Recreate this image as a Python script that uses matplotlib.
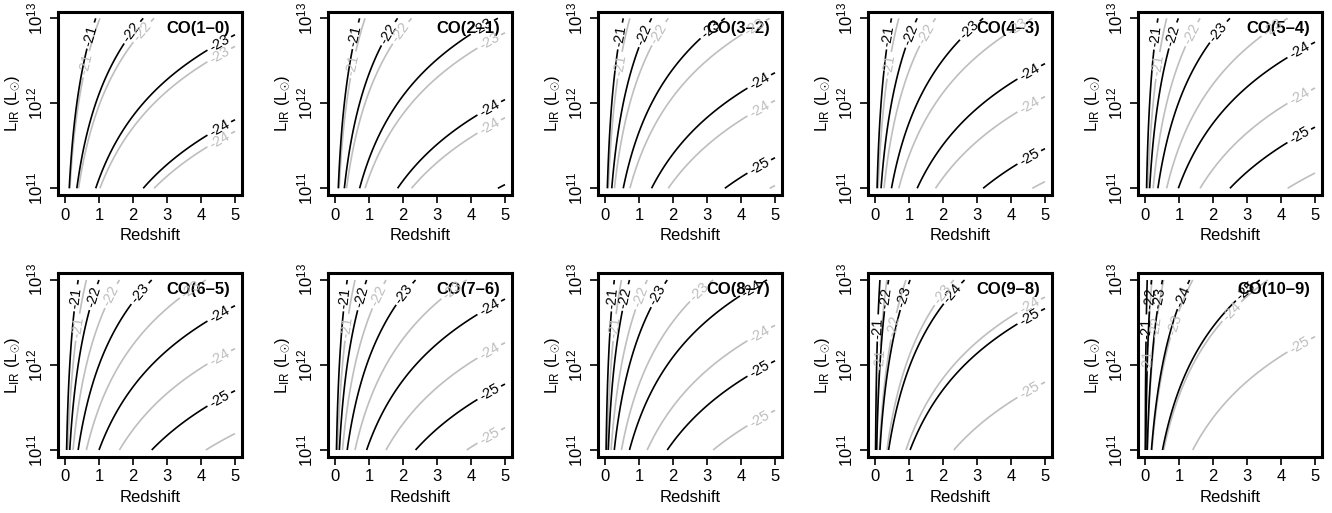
import numpy as np
import matplotlib
matplotlib.use('Agg')
import matplotlib.pyplot as plt

plt.rcParams['font.family'] = ['Liberation Sans', 'DejaVu Sans']
plt.rcParams['mathtext.fontset'] = 'custom'
plt.rcParams['mathtext.rm'] = 'Liberation Sans'
plt.rcParams['mathtext.it'] = 'Liberation Sans:italic'
plt.rcParams['mathtext.bf'] = 'Liberation Sans:bold'

transitions = ['CO(1\u20130)', 'CO(2\u20131)', 'CO(3\u20132)', 'CO(4\u20133)', 'CO(5\u20134)',
               'CO(6\u20135)', 'CO(7\u20136)', 'CO(8\u20137)', 'CO(9\u20138)', 'CO(10\u20139)']
# redshift where the -24 contour meets L_IR = 1e11 Lsun
z24_black = [2.30, 1.84, 1.37, 1.24, 0.98, 1.00, 0.93, 0.72, 0.40, 0.19]
z24_gray = [2.62, 2.25, 1.86, 1.78, 1.62, 1.60, 1.50, 1.24, 0.91, 0.55]
levels = [-25, -24, -23, -22, -21]
x_ticks = [0, 1, 2, 3, 4, 5]
y_ticks = [11, 12, 13]


def lum_dist(z):
    # flat LCDM, H0=70, Om=0.3, in Mpc
    zz = np.linspace(0, 6, 6001)
    inv_e = 1.0 / np.sqrt(0.3 * (1 + zz) ** 3 + 0.7)
    dc = np.concatenate([[0], np.cumsum(0.5 * (inv_e[1:] + inv_e[:-1]) * np.diff(zz))])
    dc = dc * 299792.458 / 70.
    return (1 + z) * np.interp(z, zz, dc)


z = np.linspace(0.005, 5, 500)
logL = np.linspace(11, 13, 300)
Z, LL = np.meshgrid(z, logL)
DL2 = 2 * np.log10(lum_dist(Z))


def flux(z24):
    c = -24 - 11 + 2 * np.log10(lum_dist(z24))
    return LL - DL2 + c


def label_spots(ax, cs, taken, min_len=40, offsets=(18, 48, 80, 115, 150)):
    spots = []
    for segs in cs.allsegs:
        for seg in segs:
            if len(seg) < 2:
                continue
            pix = ax.transData.transform(seg)
            if pix[0, 1] < pix[-1, 1]:
                pix = pix[::-1]
                seg = seg[::-1]
            d = np.concatenate([[0], np.cumsum(np.hypot(*np.diff(pix, axis=0).T))])
            if d[-1] < min_len:
                continue
            for off in offsets:
                if off > d[-1] - 10:
                    break
                px = np.interp(off, d, pix[:, 0])
                py = np.interp(off, d, pix[:, 1])
                if all(np.hypot(px - tx, py - ty) > 9 for tx, ty in taken):
                    taken.append((px, py))
                    spots.append((np.interp(off, d, seg[:, 0]), np.interp(off, d, seg[:, 1])))
                    break
    return spots


W, H = 1332, 513
fig = plt.figure(figsize=(W / 100, H / 100), dpi=100)

for i, name in enumerate(transitions):
    row, col = divmod(i, 5)
    left = 58.2 + 270 * col
    top = 11.5 + 261.7 * row
    ax = fig.add_axes([left / W, 1 - (top + 183.6) / H, 183.6 / W, 183.6 / H])
    ax.set_xlim(-0.2, 5.2)
    ax.set_ylim(10.92, 13.08)

    cs_g = ax.contour(z, logL, flux(z24_gray[i]), levels=levels, colors='#BEBEBE',
                      linewidths=1.2, linestyles='solid')
    cs_b = ax.contour(z, logL, flux(z24_black[i]), levels=levels, colors='black',
                      linewidths=1.2, linestyles='solid')

    taken = []
    fmt = lambda v: '%d' % round(v)
    for cs in (cs_b, cs_g):
        spots = label_spots(ax, cs, taken)
        if spots:
            cs.clabel(manual=spots, inline=True, inline_spacing=3, fmt=fmt, fontsize=10.5)

    ax.text(0.935, 0.95, name, transform=ax.transAxes, ha='right', va='top',
            fontsize=12, fontweight='bold')

    ax.set_xticks(x_ticks)
    ax.set_yticks(y_ticks)
    ax.set_yticklabels(['$10^{%d}$' % t for t in y_ticks], rotation=90, va='center')
    ax.tick_params(direction='out', length=6, width=1.2, labelsize=12, pad=3)
    for sp in ax.spines.values():
        sp.set_linewidth(2.2)
    ax.set_xlabel('Redshift', fontsize=12, labelpad=4)
    ax.set_ylabel(r'L$_{\mathrm{IR}}$ (L$_{\odot}$)', fontsize=12, labelpad=3)

fig.savefig('out.png', dpi=100)
